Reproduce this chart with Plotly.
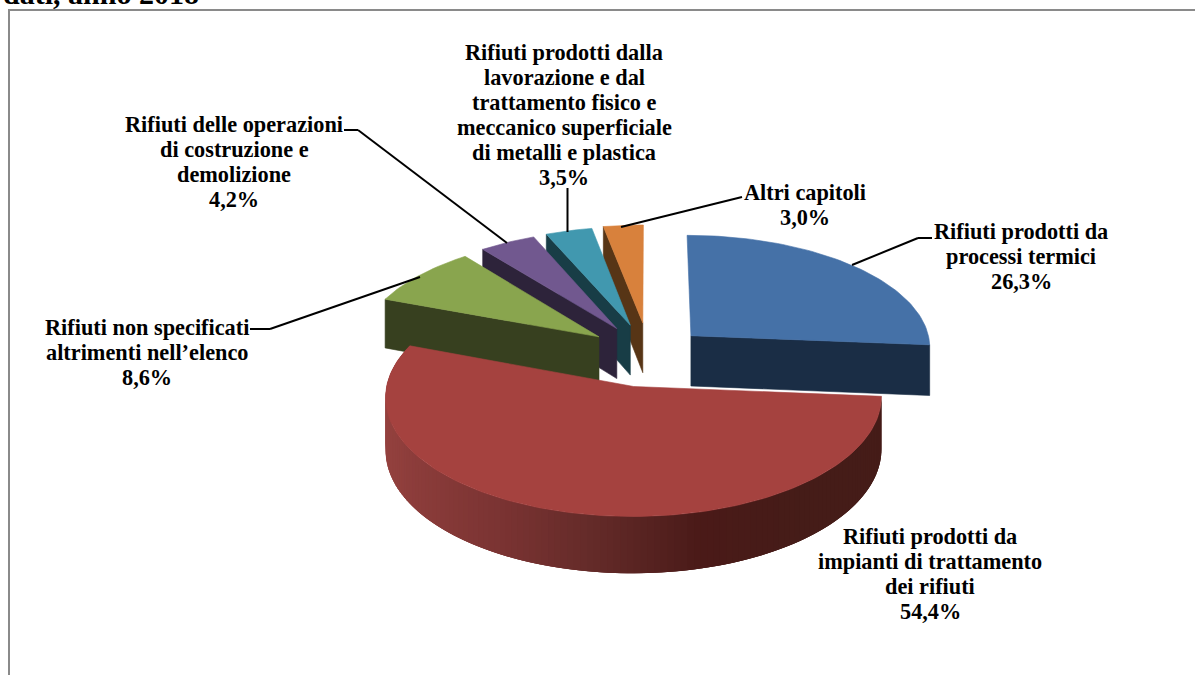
import math
import plotly.graph_objects as go

# ---- data ----
categories = [
    "Rifiuti prodotti da processi termici",
    "Rifiuti prodotti da impianti di trattamento dei rifiuti",
    "Rifiuti non specificati altrimenti nell’elenco",
    "Rifiuti delle operazioni di costruzione e demolizione",
    "Rifiuti prodotti dalla lavorazione e dal trattamento fisico e meccanico superficiale di metalli e plastica",
    "Altri capitoli",
]
values = [26.3, 54.4, 8.6, 4.2, 3.5, 3.0]
value_labels = ["26,3%", "54,4%", "8,6%", "4,2%", "3,5%", "3,0%"]

# ---- style ----
top_colors = ["#4571A7", "#A5423F", "#89A54E", "#71588F", "#4198AF", "#D8813C"]
wall_colors = ["#1A2D45", "#5A2220", "#37401F", "#2D233A", "#183D46", "#573516"]
pulls = [0.24, 0.285, 0.26, 0.265, 0.27, 0.28]
# which radial edge shows its wall: start or end of the slice
wall_edge = ["end", None, "start", "start", "start", "start"]

CX, CY, A, B, P, DEPTH = 649, 354, 241, 114, 0.09, 51
SERIF = "Liberation Serif"
FS = 22.3


def project(u, v):
    s = 1 + P * v
    return CX + A * u * s, CY + B * v * s


def depth_at(v):
    return DEPTH * (1 + P * v)


def mix(c1, c2, t):
    a = [int(c1[i:i + 2], 16) for i in (1, 3, 5)]
    b = [int(c2[i:i + 2], 16) for i in (1, 3, 5)]
    return "#%02x%02x%02x" % tuple(round(a[i] + (b[i] - a[i]) * t) for i in range(3))


def poly(xs, ys, color, lw=0.6):
    return go.Scatter(
        x=xs + xs[:1], y=ys + ys[:1], mode="lines", fill="toself", fillcolor=color,
        line=dict(color=color, width=lw), hoverinfo="skip", showlegend=False,
    )


total = sum(values)
starts, acc = [], 0.0
for val in values:
    starts.append(acc / total * 2 * math.pi)
    acc += val

geo = []
for val, st, pull in zip(values, starts, pulls):
    sweep = val / total * 2 * math.pi
    mid = st + sweep / 2
    ou, ov = pull * math.sin(mid), -pull * math.cos(mid)
    n = max(6, int(sweep * 40))
    angs = [st + sweep * i / n for i in range(n + 1)]
    rim = [(ou + math.sin(t), ov - math.cos(t)) for t in angs]
    geo.append(dict(o=(ou, ov), rim=rim, angs=angs))

traces = []


def add_slice(i):
    g = geo[i]
    ou, ov = g["o"]
    if wall_edge[i]:
        ru, rv = g["rim"][0] if wall_edge[i] == "start" else g["rim"][-1]
        x1, y1 = project(ru, rv)
        x2, y2 = project(ou, ov)
        traces.append(poly([x1, x2, x2, x1],
                           [y1, y2, y2 + depth_at(ov), y1 + depth_at(rv)], wall_colors[i]))
    xy = [project(u, v) for u, v in g["rim"]] + [project(ou, ov)]
    traces.append(poly([p[0] for p in xy], [p[1] for p in xy], top_colors[i]))


# back to front: small slices, blue, then the big red one with its curved wall
for i in [5, 4, 3, 2, 0]:
    add_slice(i)

g = geo[1]
rim = g["rim"]
x_left, x_right = 385, 882
stops = [(0.0, "#95423F"), (0.06, "#8D3D3B"), (0.26, "#7A3332"), (0.46, "#622A28"),
         (0.66, "#4A1A18"), (0.86, "#451C18"), (1.0, "#451C18")]


def ramp(t):
    for (t0, c0), (t1, c1) in zip(stops, stops[1:]):
        if t <= t1:
            return mix(c0, c1, (t - t0) / (t1 - t0))
    return stops[-1][1]


# each strip reaches a few steps past the next one, so no seams show between strips
# rim runs right-to-left along the front, so paint from the left end back to the right
for j in range(len(rim) - 2, -1, -1):
    j2 = min(len(rim) - 1, j + 3)
    pts = rim[j:j2 + 1]
    top = [project(u, v) for u, v in pts]
    bot = [(x, y + depth_at(v)) for (x, y), (u, v) in zip(top, pts)]
    outline = top + bot[::-1]
    t = (0.5 * (top[0][0] + top[1][0]) - x_left) / (x_right - x_left)
    traces.append(poly([p[0] for p in outline], [p[1] for p in outline],
                       ramp(max(0, min(1, t))), lw=0))
add_slice(1)

fig = go.Figure(traces)

# ---- labels: one annotation per text line to keep the original line spacing ----
label_lines = [
    (1021, 231, ["Rifiuti prodotti da", "processi termici", value_labels[0]]),
    (930, 536, ["Rifiuti prodotti da", "impianti di trattamento", "dei rifiuti", value_labels[1]]),
    (147, 327, ["Rifiuti non specificati", "altrimenti nell’elenco", value_labels[2]]),
    (234, 124, ["Rifiuti delle operazioni", "di costruzione e", "demolizione", value_labels[3]]),
    (564, 52, ["Rifiuti prodotti dalla", "lavorazione e dal", "trattamento fisico e",
               "meccanico superficiale", "di metalli e plastica", value_labels[4]]),
    (805, 192, ["Altri capitoli", value_labels[5]]),
]
annotations = []
for x, y, lines in label_lines:
    for k, line in enumerate(lines):
        annotations.append(dict(
            x=x, y=y + k * 25, text="<b>" + line + "</b>", showarrow=False,
            xanchor="center", yanchor="middle",
            font=dict(family=SERIF, size=FS, color="#000000"),
        ))
annotations.append(dict(
    x=201, y=12, text="<b>dati, anno 2018</b>", showarrow=False, xanchor="right", yanchor="bottom",
    font=dict(family=SERIF, size=30, color="#000000"),
))

# ---- leader lines ----
leaders = [
    [(932, 238), (918, 238), (852, 265)],
    [(250, 329), (270, 329), (420, 277)],
    [(344, 130), (358, 130), (507, 243)],
    [(567.5, 188), (567.5, 232)],
    [(742, 197), (621, 227)],
]
shapes = []
for pts in leaders:
    for (x0, y0), (x1, y1) in zip(pts, pts[1:]):
        shapes.append(dict(type="line", x0=x0, y0=y0, x1=x1, y1=y1,
                           line=dict(color="#000000", width=2)))
# chart frame, open past the page's right and bottom edges
shapes.append(dict(type="rect", x0=9, y0=10, x1=1230, y1=700,
                   line=dict(color="#8A8A8A", width=2), layer="below"))

fig.update_layout(
    width=1195, height=675, margin=dict(l=0, r=0, t=0, b=0),
    paper_bgcolor="#FFFFFF", plot_bgcolor="#FFFFFF", showlegend=False,
    xaxis=dict(range=[0, 1195], visible=False, fixedrange=True),
    yaxis=dict(range=[675, 0], visible=False, fixedrange=True),
    annotations=annotations, shapes=shapes,
)
fig.write_html("out.html", config=dict(displayModeBar=False),
               post_script="document.body.style.margin='0';document.body.style.overflow='hidden';")
